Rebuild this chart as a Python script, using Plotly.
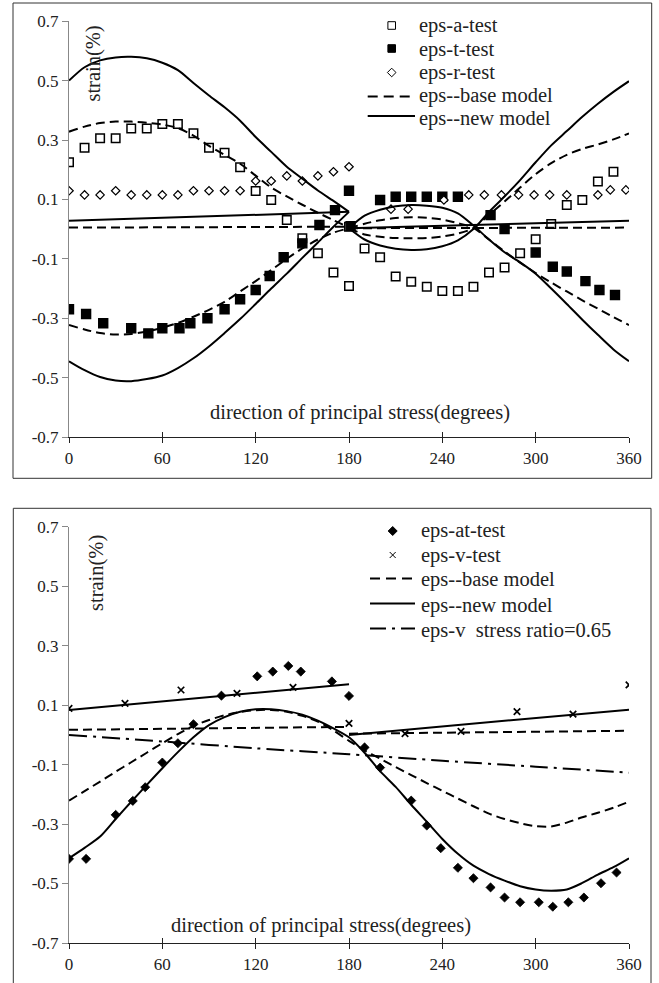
import plotly.graph_objects as go

# ================= DATA : top chart =================
deg_a_test = [0, 10, 20, 30, 40, 50, 60, 70, 80, 90, 100, 110, 120, 130, 140, 150, 160, 170, 180,
              180, 190, 200, 210, 220, 230, 240, 250, 260, 270, 280, 290, 300, 310, 320, 330, 340, 350]
eps_a_test = [0.225, 0.274, 0.306, 0.306, 0.339, 0.339, 0.354, 0.354, 0.323, 0.274, 0.257, 0.208, 0.128,
              0.098, 0.031, -0.031, -0.081, -0.146, -0.192,
              0.008, -0.065, -0.095, -0.160, -0.177, -0.194, -0.208, -0.208, -0.194, -0.146, -0.129,
              -0.081, -0.034, 0.017, 0.081, 0.098, 0.160, 0.193]

deg_t_test = [0, 11, 22, 40, 51, 60, 71, 78, 89, 100, 110, 120, 129, 138, 150, 161, 171, 180, 181,
              200, 210, 220, 230, 240, 250, 271, 280, 300, 311, 320, 332, 341, 351]
eps_t_test = [-0.270, -0.286, -0.317, -0.334, -0.351, -0.334, -0.334, -0.317, -0.300, -0.270,
              -0.236, -0.205, -0.158, -0.095, -0.048, 0.014, 0.064, 0.129, 0.010,
              0.098, 0.109, 0.109, 0.109, 0.109, 0.109, 0.047, 0.0, -0.079, -0.127, -0.143, -0.175,
              -0.205, -0.222]

deg_r_test = [0, 10, 20, 30, 40, 50, 60, 70, 80, 90, 100, 110, 120, 130, 140, 150, 160, 170, 180,
              207, 218, 241, 257, 267, 278, 289, 299, 309, 320, 340, 348, 358]
eps_r_test = [0.129, 0.115, 0.115, 0.129, 0.115, 0.115, 0.115, 0.115, 0.129, 0.129, 0.129, 0.129,
              0.162, 0.162, 0.179, 0.162, 0.179, 0.193, 0.210,
              0.067, 0.067, 0.098, 0.115, 0.115, 0.115, 0.115, 0.115, 0.115, 0.115, 0.115, 0.132, 0.132]

deg_half1 = [0, 10, 20, 30, 40, 50, 60, 70, 80, 90, 100, 110, 120, 130, 140, 150, 160, 170, 180]
deg_half2 = [180, 190, 200, 210, 220, 230, 240, 250, 260, 270, 280, 290, 300, 310, 320, 330, 340, 350, 360]
deg_ends1 = [0, 180]
deg_ends2 = [180, 360]

new_a_1 = [0.50, 0.545, 0.568, 0.578, 0.58, 0.575, 0.56, 0.535, 0.492, 0.45, 0.41, 0.365, 0.31,
           0.26, 0.21, 0.17, 0.13, 0.095, 0.058]
new_t_1 = [-0.445, -0.475, -0.498, -0.51, -0.512, -0.505, -0.493, -0.468, -0.435, -0.395, -0.35,
           -0.303, -0.252, -0.2, -0.15, -0.097, -0.045, 0.008, 0.058]
new_r_1 = [0.028, 0.058]
new_p_2 = [0.003, 0.045, 0.065, 0.077, 0.081, 0.079, 0.072, 0.053, 0.012, -0.035, -0.078, -0.112,
           -0.15, -0.2, -0.252, -0.305, -0.356, -0.405, -0.445]
new_q_2 = [0.003, -0.035, -0.055, -0.066, -0.07, -0.068, -0.058, -0.038, 0.0, 0.058, 0.11, 0.165,
           0.225, 0.282, 0.33, 0.378, 0.422, 0.462, 0.498]
new_r_2 = [0.003, 0.028]

base_a_1 = [0.328, 0.345, 0.357, 0.362, 0.362, 0.358, 0.352, 0.34, 0.315, 0.28, 0.25, 0.22, 0.18,
            0.14, 0.11, 0.082, 0.055, 0.03, 0.005]
base_t_1 = [-0.323, -0.338, -0.35, -0.355, -0.353, -0.345, -0.332, -0.316, -0.295, -0.272, -0.245,
            -0.21, -0.175, -0.138, -0.1, -0.065, -0.035, -0.012, 0.003]
base_r_1 = [0.005, 0.008]
base_p_2 = [0.003, 0.018, 0.03, 0.037, 0.04, 0.038, 0.032, 0.02, 0.004, -0.035, -0.075, -0.113,
            -0.148, -0.18, -0.21, -0.24, -0.268, -0.296, -0.323]
base_q_2 = [0.003, -0.018, -0.026, -0.03, -0.031, -0.03, -0.025, -0.015, 0.003, 0.048, 0.093, 0.14,
            0.185, 0.222, 0.25, 0.27, 0.285, 0.302, 0.322]
base_r_2 = [0.003, 0.005]

# ================= DATA : bottom chart =================
deg_at_test = [0, 11, 30, 41, 49, 60, 70, 80, 98, 121, 131, 141, 149, 169, 180, 190, 200, 220, 230,
               239, 250, 260, 271, 280, 290, 302, 311, 321, 331, 342, 352]
eps_at_test = [-0.417, -0.417, -0.269, -0.222, -0.176, -0.093, -0.028, 0.036, 0.132, 0.197, 0.213,
               0.232, 0.213, 0.18, 0.131, -0.042, -0.11, -0.221, -0.305, -0.381, -0.447, -0.482,
               -0.513, -0.547, -0.563, -0.563, -0.578, -0.563, -0.547, -0.499, -0.463]

deg_v_test = [0, 36, 72, 108, 144, 180, 216, 252, 288, 324, 360]
eps_v_test = [0.089, 0.106, 0.151, 0.14, 0.16, 0.039, 0.004, 0.012, 0.078, 0.07, 0.168]

deg_full = [0, 10, 20, 30, 40, 50, 60, 70, 80, 90, 100, 110, 120, 130, 140, 150, 160, 170, 180,
            190, 200, 210, 220, 230, 240, 250, 260, 270, 280, 290, 300, 310, 320, 330, 340, 350, 360]
new_at = [-0.415, -0.38, -0.342, -0.283, -0.225, -0.168, -0.112, -0.058, -0.008, 0.033, 0.06, 0.078,
          0.086, 0.086, 0.08, 0.068, 0.048, 0.022, -0.008,
          -0.06, -0.122, -0.175, -0.235, -0.292, -0.35, -0.4, -0.44, -0.468, -0.49, -0.509, -0.52,
          -0.524, -0.52, -0.498, -0.47, -0.445, -0.415]
base_at = [-0.221, -0.189, -0.157, -0.124, -0.092, -0.06, -0.028, 0.003, 0.03, 0.05, 0.066, 0.077,
           0.083, 0.084, 0.078, 0.064, 0.045, 0.015, -0.02,
           -0.052, -0.08, -0.108, -0.135, -0.162, -0.188, -0.214, -0.24, -0.265, -0.283, -0.297,
           -0.307, -0.308, -0.295, -0.277, -0.262, -0.245, -0.225]
new_v_1 = [0.084, 0.17]
new_v_2 = [0.0, 0.085]
base_v_1 = [0.017, 0.027]
base_v_2 = [0.004, 0.014]
deg_v065 = [0, 60, 120, 180, 240, 300, 360]
eps_v065 = [0.0, -0.022, -0.045, -0.065, -0.087, -0.107, -0.127]

# ticks / labels
x_ticks = [0, 60, 120, 180, 240, 300, 360]
y_ticks = [-0.7, -0.5, -0.3, -0.1, 0.1, 0.3, 0.5, 0.7]
y_ticktext = ["-0.7", "-0.5", "-0.3", "-0.1", "0.1", "0.3", "0.5", "0.7"]
x_title = "direction of principal stress(degrees)"
y_title = "strain(%)"
legend_top = ["eps-a-test", "eps-t-test", "eps-r-test", "eps--base model", "eps--new model"]
legend_bot = ["eps-at-test", "eps-v-test", "eps--base model", "eps--new model",
              "eps-v  stress ratio=0.65"]

# ================= FIGURE =================
W, H = 659, 983
FONT = "Liberation Serif, Times New Roman, serif"
TXT = "#222222"
DASH = "9px,5px"
DASHDOT = "18px,6px,3px,6px"


def px(xp):
    return xp / W


def py(yp):
    return 1 - yp / H


fig = go.Figure()


def line(x, y, xa, ya, dash=None, width=2, smooth=True):
    fig.add_trace(go.Scatter(x=x, y=y, xaxis=xa, yaxis=ya, mode="lines",
                             line=dict(color="black", width=width, dash=dash,
                                       shape="spline" if smooth else "linear", smoothing=0.8),
                             showlegend=False, hoverinfo="skip"))


def marks(x, y, xa, ya, symbol, size, fill, lw=1.4):
    fig.add_trace(go.Scatter(x=x, y=y, xaxis=xa, yaxis=ya, mode="markers",
                             marker=dict(symbol=symbol, size=size, color=fill,
                                         line=dict(color="black", width=lw)),
                             showlegend=False, hoverinfo="skip"))


# top chart markers
marks(deg_a_test, eps_a_test, "x", "y", "square", 8.5, "white", 1.5)
marks(deg_t_test, eps_t_test, "x", "y", "square", 9, "black")
marks(deg_r_test, eps_r_test, "x", "y", "diamond", 6.5, "white", 1.2)
# top chart model lines
for ys in (base_a_1, base_t_1):
    line(deg_half1, ys, "x", "y", DASH)
for ys in (base_p_2, base_q_2):
    line(deg_half2, ys, "x", "y", DASH)
line(deg_ends1, base_r_1, "x3", "y", DASH, smooth=False)
line(deg_ends2, base_r_2, "x3", "y", DASH, smooth=False)
for ys in (new_a_1, new_t_1):
    line(deg_half1, ys, "x", "y")
for ys in (new_p_2, new_q_2):
    line(deg_half2, ys, "x", "y")
line(deg_ends1, new_r_1, "x", "y", smooth=False)
line(deg_ends2, new_r_2, "x", "y", smooth=False)

# bottom chart
marks(deg_at_test, eps_at_test, "x2", "y2", "diamond", 7, "black", 0.8)
marks(deg_v_test, eps_v_test, "x2", "y2", "x-thin-open", 6.5, "black", 1.7)
line(deg_full, base_at, "x2", "y2", DASH)
line(deg_ends1, base_v_1, "x4", "y2", DASH, smooth=False)
line(deg_ends2, base_v_2, "x4", "y2", DASH, smooth=False)
line(deg_full, new_at, "x2", "y2")
line(deg_ends1, new_v_1, "x2", "y2", smooth=False)
line(deg_ends2, new_v_2, "x2", "y2", smooth=False)
line(deg_v065, eps_v065, "x2", "y2", DASHDOT)

xdom = [69 / W, 629 / W]
ydom_top = [py(437), py(21.2)]
ydom_bot = [py(943), py(526.8)]

tickfont = dict(family=FONT, size=17, color=TXT)
xa_common = dict(range=[0, 360], tickvals=x_ticks, ticks="outside", ticklen=5, tickwidth=1,
                 tickcolor="#222", showline=True, linecolor="#222", linewidth=1,
                 showgrid=False, zeroline=False, tickfont=tickfont, ticklabelstandoff=1)
ya_common = dict(range=[-0.7, 0.7], tickvals=y_ticks, ticktext=y_ticktext, ticks="outside",
                 ticklen=6, tickwidth=1, tickcolor="#888", showline=True, linecolor="#888",
                 linewidth=1, showgrid=False, zeroline=False, tickfont=tickfont)
xa_inner = dict(range=[0, 360], tickvals=x_ticks, ticks="inside", ticklen=5, tickwidth=1,
                tickcolor="#222", showline=False, showgrid=False, zeroline=False,
                showticklabels=False)

fig.update_layout(
    width=W, height=H, margin=dict(l=0, r=0, t=0, b=0, autoexpand=False),
    paper_bgcolor="white", plot_bgcolor="rgba(0,0,0,0)", showlegend=False,
    xaxis=dict(domain=xdom, anchor="y", **xa_common),
    yaxis=dict(domain=ydom_top, anchor="x", **ya_common),
    xaxis2=dict(domain=xdom, anchor="y2", **xa_common),
    yaxis2=dict(domain=ydom_bot, anchor="x2", **ya_common),
    xaxis3=dict(overlaying="x", anchor="y", **xa_inner),
    xaxis4=dict(overlaying="x2", anchor="y2", **xa_inner),
)

shapes = []
annotations = []
tfont = dict(family=FONT, size=20.5, color=TXT)

# outer frames
shapes.append(dict(type="rect", xref="paper", yref="paper", x0=px(13), x1=px(651.7),
                   y0=py(478.3), y1=py(3), line=dict(color="#333", width=1)))
shapes.append(dict(type="rect", xref="paper", yref="paper", x0=px(13.3), x1=px(651),
                   y0=py(995), y1=py(508.3), line=dict(color="#333", width=1)))

# axis titles
annotations.append(dict(text=x_title, xref="paper", yref="paper", x=px(360.5), y=py(412.3),
                        xanchor="center", yanchor="middle", showarrow=False, font=tfont))
annotations.append(dict(text=x_title, xref="paper", yref="paper", x=px(321.3), y=py(925),
                        xanchor="center", yanchor="middle", showarrow=False, font=tfont))
annotations.append(dict(text=y_title, xref="paper", yref="paper", x=px(93.3), y=py(63.3),
                        xanchor="center", yanchor="middle", textangle=-90, showarrow=False,
                        font=tfont))
annotations.append(dict(text=y_title, xref="paper", yref="paper", x=px(96.7), y=py(573.3),
                        xanchor="center", yanchor="middle", textangle=-90, showarrow=False,
                        font=tfont))

# legends (text)
top_rows = [25.7, 49, 72.4, 95.6, 118.6]
for name, yy in zip(legend_top, top_rows):
    annotations.append(dict(text=name, xref="paper", yref="paper", x=px(416.7), y=py(yy),
                            xanchor="left", yanchor="middle", showarrow=False, font=tfont))
bot_rows = [530, 555, 579, 605, 630]
for name, yy in zip(legend_bot, bot_rows):
    annotations.append(dict(text=name, xref="paper", yref="paper", x=px(419.3), y=py(yy),
                            xanchor="left", yanchor="middle", showarrow=False, font=tfont))


def pix_shape(kind, xc, yc, fill, path=None, half=3.8, lw=1):
    d = dict(type=kind, xref="paper", yref="paper", xsizemode="pixel", ysizemode="pixel",
             xanchor=px(xc), yanchor=py(yc), line=dict(color="black", width=lw), fillcolor=fill)
    if kind == "path":
        d["path"] = path
    else:
        d.update(x0=-half, x1=half, y0=-half, y1=half)
    return d


# legend samples top
shapes.append(pix_shape("rect", 391.7, 25.5, "white"))
shapes.append(pix_shape("rect", 391.7, 48.5, "black"))
shapes.append(pix_shape("path", 391.7, 72.5, "white", path="M0,4.3 L4.3,0 L0,-4.3 L-4.3,0 Z"))
shapes.append(dict(type="line", xref="paper", yref="paper", x0=px(367.7), x1=px(415),
                   y0=py(96.5), y1=py(96.5), line=dict(color="black", width=2, dash="10px,6px")))
shapes.append(dict(type="line", xref="paper", yref="paper", x0=px(367.7), x1=px(415),
                   y0=py(116), y1=py(116), line=dict(color="black", width=2)))
# legend samples bottom
shapes.append(pix_shape("path", 392.7, 531, "black", path="M0,4.5 L4.5,0 L0,-4.5 L-4.5,0 Z"))
shapes.append(pix_shape("path", 392.7, 555, "rgba(0,0,0,0)", path="M-3,-3 L3,3 M3,-3 L-3,3"))
shapes.append(dict(type="line", xref="paper", yref="paper", x0=px(370), x1=px(415),
                   y0=py(578.5), y1=py(578.5), line=dict(color="black", width=2, dash="10px,6px")))
shapes.append(dict(type="line", xref="paper", yref="paper", x0=px(370), x1=px(415),
                   y0=py(603.5), y1=py(603.5), line=dict(color="black", width=2)))
shapes.append(dict(type="line", xref="paper", yref="paper", x0=px(370), x1=px(415),
                   y0=py(628.5), y1=py(628.5),
                   line=dict(color="black", width=2, dash="16px,6px,3px,6px")))

fig.update_layout(shapes=shapes, annotations=annotations)
fig.write_html("out.html")
